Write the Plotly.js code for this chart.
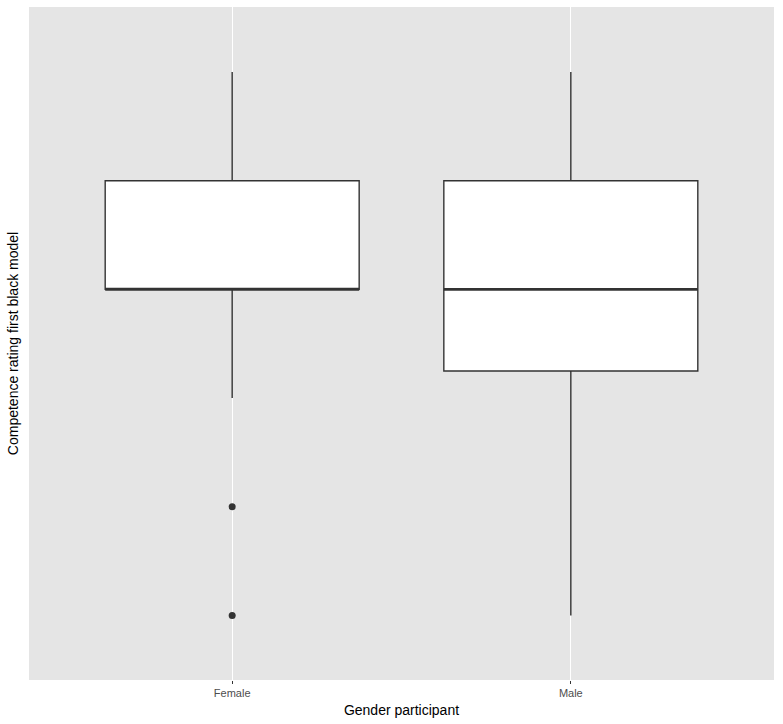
<!DOCTYPE html>
<html>
<head>
<meta charset="utf-8">
<script src="https://cdn.plot.ly/plotly-3.0.1.min.js"></script>
<style>html,body{margin:0;padding:0;background:#fff;}</style>
</head>
<body>
<div id="chart" style="width:783px;height:724px;"></div>
<script>
// Data
const categories = ['Female', 'Male'];
const lowerFence = [4, 2];
const q1 = [5, 4.25];
const median = [5, 5];
const q3 = [6, 6];
const upperFence = [7, 7];
const outlierGroup = ['Female', 'Female'];
const outlierValues = [3, 2];

const boxWidth = 0.75;
const lineColor = '#333333';

const traces = [
  {
    type: 'box',
    x: categories,
    q1: q1,
    median: median,
    q3: q3,
    lowerfence: lowerFence,
    upperfence: upperFence,
    boxpoints: false,
    width: boxWidth,
    whiskerwidth: 0,
    fillcolor: '#ffffff',
    line: {color: lineColor, width: 1.4},
    hoverinfo: 'skip',
    showlegend: false
  },
  {
    type: 'scatter',
    mode: 'markers',
    x: outlierGroup,
    y: outlierValues,
    marker: {color: lineColor, size: 7},
    hoverinfo: 'skip',
    showlegend: false
  }
];

// thicker median lines (ggplot fatten)
const shapes = categories.map((c, i) => ({
  type: 'line', xref: 'x', yref: 'y',
  x0: i - boxWidth / 2, x1: i + boxWidth / 2,
  y0: median[i], y1: median[i],
  line: {color: lineColor, width: 2.6}
}));

const layout = {
  width: 783,
  height: 724,
  margin: {l: 29, r: 9, t: 7, b: 44},
  paper_bgcolor: '#ffffff',
  plot_bgcolor: '#e5e5e5',
  font: {family: 'Liberation Sans, Arial, sans-serif', color: '#000'},
  showlegend: false,
  shapes: shapes,
  xaxis: {
    type: 'category',
    range: [-0.6, 1.6],
    showgrid: true,
    gridcolor: '#ffffff',
    gridwidth: 1.1,
    zeroline: false,
    showline: false,
    ticks: 'outside',
    ticklen: 3,
    tickwidth: 1.1,
    tickcolor: lineColor,
    tickfont: {size: 11, color: '#4d4d4d'},
    title: {text: 'Gender participant', font: {size: 14, color: '#000'}, standoff: 6},
    fixedrange: true
  },
  yaxis: {
    range: [1.407, 7.598],
    showgrid: false,
    zeroline: false,
    showline: false,
    showticklabels: false,
    ticks: '',
    title: {text: 'Competence rating first black model', font: {size: 14, color: '#000'}, standoff: 6},
    fixedrange: true
  }
};

Plotly.newPlot('chart', traces, layout, {displayModeBar: false, staticPlot: true});
</script>
</body>
</html>
